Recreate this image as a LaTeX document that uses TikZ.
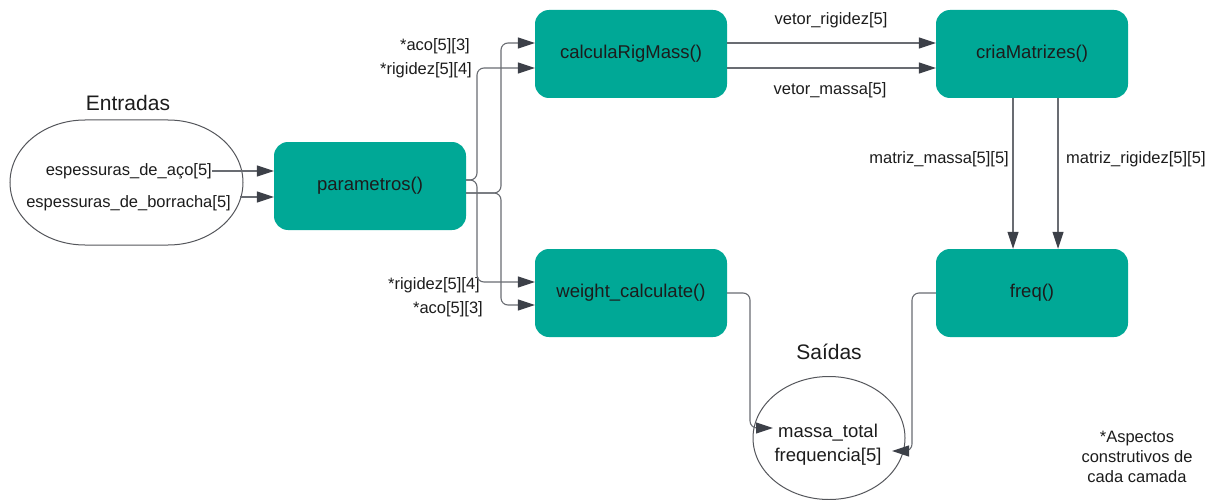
\documentclass[tikz,border=0pt]{standalone}
\usepackage{fontspec}
\setmainfont{Liberation Sans}
\usetikzlibrary{arrows.meta,calc,shapes.geometric}
\definecolor{boxteal}{RGB}{0,168,150}
\definecolor{txt}{RGB}{28,28,28}
\definecolor{linec}{RGB}{105,108,114}
\definecolor{arrc}{RGB}{60,64,72}
\tikzset{
  fbox/.style={rectangle, rounded corners=14pt, fill=boxteal, minimum width=192pt,
    minimum height=88pt, font=\fontsize{18.5}{22}\selectfont, text=txt},
  lbl/.style={font=\fontsize{16.5}{20}\selectfont, text=txt, inner sep=0pt},
  outlbl/.style={font=\fontsize{18.5}{22}\selectfont, text=txt, inner sep=0pt},
  ttl/.style={font=\fontsize{21}{25}\selectfont, text=txt, inner sep=0pt},
  conn/.style={draw=linec, line width=1.1pt, rounded corners=7pt,
    -{Triangle[length=17pt,width=11pt,fill=arrc,color=arrc]}},
}
\begin{document}
\begin{tikzpicture}[x=1pt,y=-1pt]
\useasboundingbox (0,0) rectangle (1214,500);

% inputs
\draw[linec!80!black, line width=1pt] (85,120) -- (168,120)
  arc[start angle=-90, end angle=90, x radius=75, y radius=62.5] -- (85,245)
  arc[start angle=90, end angle=270, x radius=75, y radius=62.5] -- cycle;
\node[ttl] (entradas) at (128,103) {Entradas};
\node[lbl, anchor=east] (ea) at (212,171) {espessuras\_de\_aço[5]};
\node[lbl, anchor=east] (eb) at (231,203) {espessuras\_de\_borracha[5]};
\coordinate (ebout) at ($(eb.east)+(9,-6)$);

% function blocks
\node[fbox] (param) at (370,186) {parametros()};
\node[fbox] (calc)  at (631,54)  {calculaRigMass()};
\node[fbox] (cria)  at (1032,54) {criaMatrizes()};
\node[fbox] (weight) at (631,293) {weight\_calculate()};
\node[fbox] (freq)  at (1032,293) {freq()};

% outputs
\node[draw=linec!80!black, line width=1pt, ellipse, minimum width=152pt,
  minimum height=123pt, inner sep=0pt] (saidas) at (829,438) {};
\node[ttl] (saidastitle) at (829,352) {Saídas};
\node[outlbl] (mt) at (828,433) {massa\_total};
\node[outlbl] (fq) at (828,457) {frequencia[5]};

% note
\node[lbl, align=center] (nota) at (1137,457) {*Aspectos\\construtivos de\\cada camada};

% edge labels
\node[lbl, anchor=east] (l1) at (470,46) {*aco[5][3]};
\node[lbl, anchor=east] (l2) at (472,70) {*rigidez[5][4]};
\node[lbl, anchor=east] (l3) at (480,285) {*rigidez[5][4]};
\node[lbl, anchor=east] (l4) at (483,309) {*aco[5][3]};
\node[lbl] (l5) at (831,20) {vetor\_rigidez[5]};
\node[lbl] (l6) at (830,90) {vetor\_massa[5]};
\node[lbl, anchor=east] (l7) at (1009,159) {matriz\_massa[5][5]};
\node[lbl, anchor=west] (l8) at (1066,159) {matriz\_rigidez[5][5]};

% inputs into parametros()
\draw[conn] (ea.east) -- (ea.east -| param.west);
\draw[conn] (ebout) -- (ebout -| param.west);

% parametros() to calculaRigMass() and weight_calculate()
\draw[conn] ($(param.east)+(0,-6)$) -- (477,180) -- (477,68) -- ($(calc.west)+(0,14)$);
\draw[conn] ($(param.east)+(0,7)$) -- (501,193) -- (501,43) -- ($(calc.west)+(0,-11)$);
\draw[conn] ($(param.east)+(0,-6)$) -- (477,180) -- (477,282) -- ($(weight.west)+(0,-11)$);
\draw[conn] ($(param.east)+(0,7)$) -- (501,193) -- (501,305) -- ($(weight.west)+(0,12)$);

% calculaRigMass() to criaMatrizes()
\draw[conn] ($(calc.east)+(0,-11)$) -- ($(cria.west)+(0,-11)$);
\draw[conn] ($(calc.east)+(0,14)$) -- ($(cria.west)+(0,14)$);

% criaMatrizes() to freq()
\draw[conn] ($(cria.south)+(-19,0)$) -- ($(freq.north)+(-19,0)$);
\draw[conn] ($(cria.south)+(26,0)$) -- ($(freq.north)+(26,0)$);

% results
\draw[conn] (weight.east) -- (750,293) -- (750,428) -- (773,428);
\draw[conn] (freq.west) -- (912,293) -- (912,451) -- (892,451);
\end{tikzpicture}
\end{document}
